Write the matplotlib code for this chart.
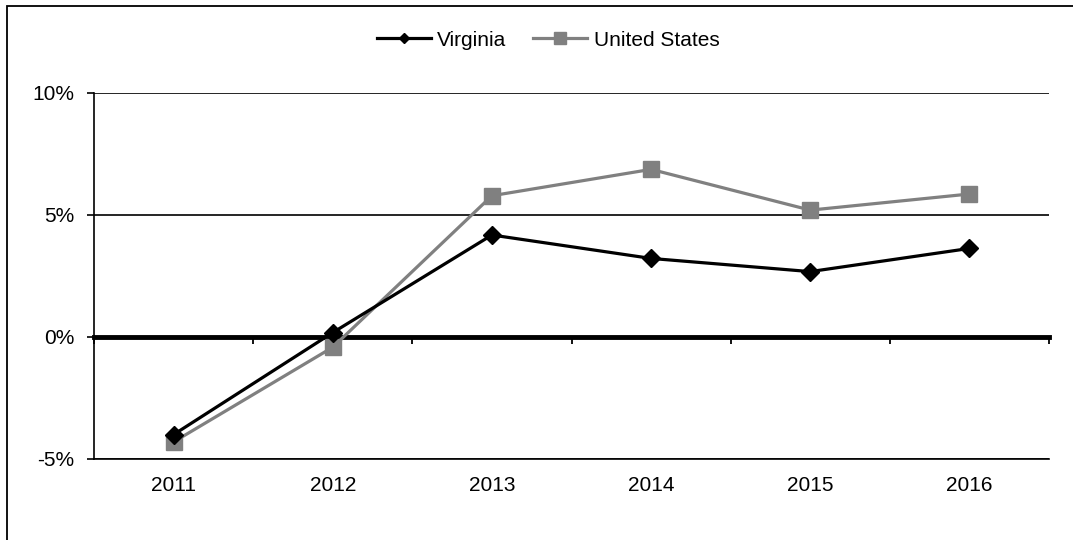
import matplotlib
matplotlib.use("Agg")
import matplotlib.pyplot as plt
from matplotlib.lines import Line2D
from matplotlib.patches import Rectangle

# annual growth, percent
years = ["2011", "2012", "2013", "2014", "2015", "2016"]
virginia = [-4.0, 0.18, 4.18, 3.22, 2.68, 3.63]
united_states = [-4.3, -0.42, 5.79, 6.87, 5.2, 5.86]

y_ticks = [-5, 0, 5, 10]
y_labels = ["-5%", "0%", "5%", "10%"]

plt.rcParams["font.family"] = ["Liberation Sans", "DejaVu Sans"]
plt.rcParams["font.size"] = 15

fig = plt.figure(figsize=(10.73, 5.4), dpi=100)
ax = fig.add_axes([94/1073, 1-459/540, (1049-94)/1073, (459-93)/540])

# border around the whole chart
fig.patches.append(Rectangle((7/1073, -0.1), 1.2, 1.1 - 6/540, transform=fig.transFigure,
                             fill=False, edgecolor="black", linewidth=1.3))

x = list(range(len(years)))
ax.plot(x, united_states, color="#808080", lw=2.3, marker="s", ms=12,
        mec="#808080", mfc="#808080", zorder=3)
ax.plot(x, virginia, color="black", lw=2.3, marker="D", ms=9,
        mec="black", mfc="black", zorder=4)

ax.set_xlim(-0.5, len(years) - 0.5)
ax.set_ylim(-5, 10)
ax.set_yticks(y_ticks)
ax.set_yticklabels(y_labels)
ax.set_xticks(x)
ax.set_xticklabels(years)
ax.tick_params(axis="x", length=0, pad=12)
ax.tick_params(axis="y", length=5, width=1.2, pad=9)

ax.yaxis.grid(True, color="black", lw=1.2)
ax.set_axisbelow(True)
for s in ["top", "right"]:
    ax.spines[s].set_visible(False)
ax.spines["left"].set_linewidth(1.2)
ax.spines["bottom"].set_linewidth(1.2)

# category axis crossing at zero
zero_axis = ax.secondary_xaxis(1/3)
zero_axis.set_xticks([i + 0.5 for i in range(-1, len(years))])
zero_axis.tick_params(axis="x", length=5, width=1.3, labelbottom=False, labeltop=False)
zero_axis.spines["bottom"].set_linewidth(3.5)

handles = [
    Line2D([], [], color="black", lw=2.3, marker="D", ms=5),
    Line2D([], [], color="#808080", lw=2.3, marker="s", ms=8),
]
fig.legend(handles, ["Virginia", "United States"], loc="center",
           bbox_to_anchor=(548/1073, 1-40/540), ncol=2, frameon=False,
           handlelength=2.6, handletextpad=0.3, columnspacing=1.3)

fig.savefig("out.png", dpi=100)
